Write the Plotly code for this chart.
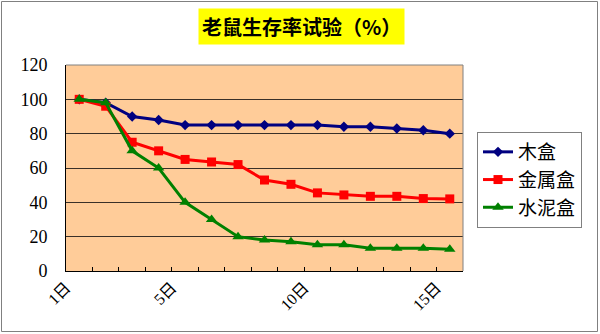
import plotly.graph_objects as go

days = list(range(1, 16))
tick_labels = ["1日", "5日", "10日", "15日"]
tick_positions = [0.5, 4.5, 9.5, 14.5]

series_names = ["木盒", "金属盒", "水泥盒"]
wood = [100, 98, 90, 88, 85, 85, 85, 85, 85, 85, 84, 84, 83, 82, 80]
metal = [100, 96, 75, 70, 65, 63.5, 62, 53, 50.5, 45.5, 44.3, 43.5, 43.5, 42.2, 42]
cement = [100, 98, 70, 60, 40, 30, 20, 18, 17, 15.3, 15.3, 13.3, 13.3, 13.3, 12.6]

colors = ["#000080", "#FF0000", "#008000"]
symbols = ["diamond", "square", "triangle-up"]
sizes = [8, 9, 10]

fig = go.Figure()
for name, vals, c, s, sz in zip(series_names, [wood, metal, cement], colors, symbols, sizes):
    fig.add_trace(go.Scatter(
        x=days, y=vals, name=name, mode="lines+markers",
        line=dict(color=c, width=3),
        marker=dict(color=c, symbol=s, size=sz),
    ))

L, R, T, B = 66, 137, 65, 63
W, H = 600, 334
pw = W - L - R
ph = H - T - B

def px_x(p):
    return (p - L) / pw

def px_y(p):
    return (H - B - p) / ph

fig.update_layout(
    width=W, height=H,
    margin=dict(l=L, r=R, t=T, b=B),
    paper_bgcolor="white",
    plot_bgcolor="#FFCC99",
    showlegend=True,
    legend=dict(
        x=px_x(477), y=px_y(132), xanchor="left", yanchor="top",
        bgcolor="white", bordercolor="#808080", borderwidth=1,
        font=dict(family="Noto Sans CJK SC", size=19, color="black"),
        tracegroupgap=0,
    ),
    xaxis=dict(
        range=[0.5, 15.5],
        tickmode="array", tickvals=tick_positions, ticktext=tick_labels,
        tickangle=-45,
        ticks="inside", ticklen=4, tickcolor="black",
        minor=dict(tickmode="array", tickvals=[i + 0.5 for i in range(16)],
                   ticks="inside", ticklen=4, tickcolor="black", showgrid=False),
        showgrid=False, zeroline=False,
        showline=True, linecolor="black", linewidth=1,
        tickfont=dict(family="Liberation Serif, Noto Sans CJK SC", size=16, color="black"),
    ),
    yaxis=dict(
        range=[0, 120], dtick=20, tick0=0,
        showgrid=True, gridcolor="#3a3028", gridwidth=1,
        zeroline=False,
        showline=True, linecolor="black", linewidth=1,
        ticks="", ticklabelstandoff=14,
        tickfont=dict(family="Liberation Serif", size=18, color="black"),
    ),
    annotations=[dict(
        text="<b>老鼠生存率试验（%）</b>",
        xref="paper", yref="paper",
        x=px_x(301), y=px_y(26), xanchor="center", yanchor="middle",
        showarrow=False, bgcolor="#FFFF00", borderpad=3,
        font=dict(family="Noto Sans CJK SC", size=20, color="black"),
    )],
    shapes=[
        dict(type="line", xref="paper", yref="paper", x0=0, x1=1, y0=1, y1=1,
             line=dict(color="#808080", width=1)),
        dict(type="line", xref="paper", yref="paper", x0=1, x1=1, y0=0, y1=1,
             line=dict(color="#808080", width=1)),
        dict(type="rect", xref="paper", yref="paper",
             x0=px_x(1.5), x1=px_x(597.5), y0=px_y(331.5), y1=px_y(1.5),
             line=dict(color="#808080", width=1)),
    ],
)

fig.write_html("out.html")
